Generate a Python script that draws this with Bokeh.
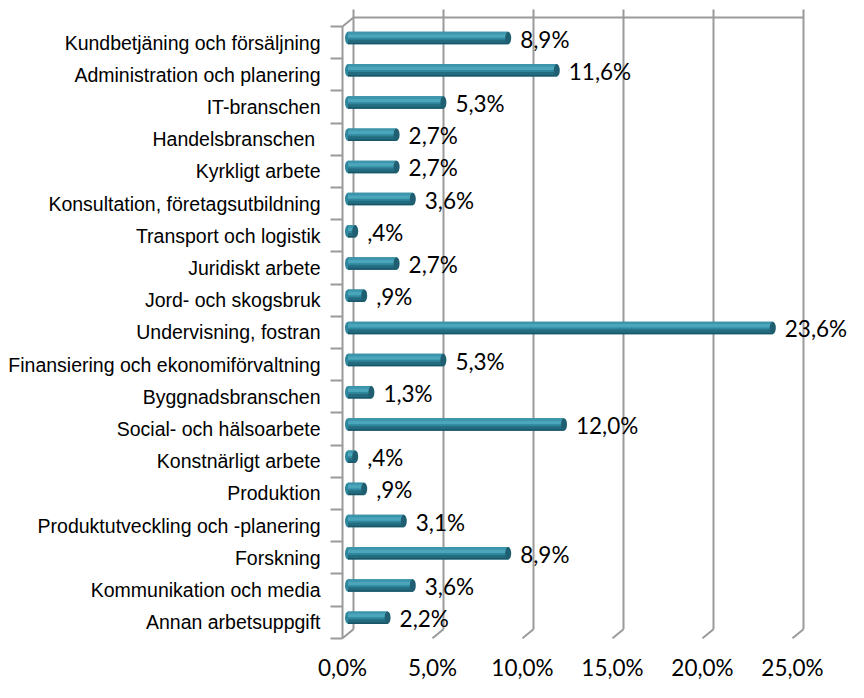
from bokeh.plotting import figure
from bokeh.models import Range1d, LinearAxis, FixedTicker
from bokeh.core.properties import value
from bokeh.embed import file_html
from bokeh.resources import INLINE

# ---------------- data ----------------
categories = [
    "Kundbetjäning och försäljning",
    "Administration och planering",
    "IT-branschen",
    "Handelsbranschen ",
    "Kyrkligt arbete",
    "Konsultation, företagsutbildning",
    "Transport och logistik",
    "Juridiskt arbete",
    "Jord- och skogsbruk",
    "Undervisning, fostran",
    "Finansiering och ekonomiförvaltning",
    "Byggnadsbranschen",
    "Social- och hälsoarbete",
    "Konstnärligt arbete",
    "Produktion",
    "Produktutveckling och -planering",
    "Forskning",
    "Kommunikation och media",
    "Annan arbetsuppgift",
]
percent = [8.9, 11.6, 5.3, 2.7, 2.7, 3.6, 0.4, 2.7, 0.9, 23.6,
           5.3, 1.3, 12.0, 0.4, 0.9, 3.1, 8.9, 3.6, 2.2]
x_ticks = [0, 5, 10, 15, 20, 25]
x_tick_labels = ["0,0%", "5,0%", "10,0%", "15,0%", "20,0%", "25,0%"]


def fmt(v):
    s = f"{v:.1f}".replace(".", ",")
    if s.startswith("0,"):
        s = s[1:]
    return s + "%"


value_labels = [fmt(v) for v in percent]

# ---------------- layout constants ----------------
W, H = 848, 682
PX = 18.0          # pixels per percent
X0 = 342           # canvas x of 0 % (front plane)
ROW = 32.2         # pixels per category
Y_TOP = 26         # canvas y of front plane top
n = len(categories)
DX, DY = 11, 9     # 3D depth offset in pixels

x_range = Range1d(-X0 / PX, (W - X0) / PX)
y_range = Range1d(start=(H - Y_TOP) / ROW - 0.5, end=-Y_TOP / ROW - 0.5)

dxb = DX / PX
dyb = -DY / ROW
dxm, dym = dxb / 2, dyb / 2

p = figure(width=W, height=H, x_range=x_range, y_range=y_range,
           output_backend="svg", toolbar_location=None,
           x_axis_type=None, y_axis_type=None, min_border=0,
           outline_line_color=None, background_fill_color="white",
           border_fill_color="white")

GRID = "#9a9a9a"
top_front = -0.5
bot_front = n - 0.5
top_back = top_front + dyb
bot_back = bot_front + dyb
stub = top_back - 8 / ROW

xs_back = [t + dxb for t in x_ticks]
# back-wall gridlines
p.segment(x0=xs_back, y0=[stub] * len(x_ticks), x1=xs_back, y1=[bot_back] * len(x_ticks),
          line_color=GRID, line_width=2)
# floor diagonals
p.segment(x0=xs_back, y0=[bot_back] * len(x_ticks), x1=x_ticks, y1=[bot_front] * len(x_ticks),
          line_color=GRID, line_width=2)
# top edge of back wall
p.segment(x0=[x_ticks[0] + dxb], y0=[top_back], x1=[x_ticks[-1] + dxb], y1=[top_back],
          line_color=GRID, line_width=2)
# top-left side diagonal
p.segment(x0=[x_ticks[0]], y0=[top_front], x1=[x_ticks[0] + dxb], y1=[top_back],
          line_color=GRID, line_width=2)
# front vertical axis line
p.segment(x0=[x_ticks[0]], y0=[top_front], x1=[x_ticks[0]], y1=[bot_front],
          line_color=GRID, line_width=2)

# ---------------- cylinder bars ----------------
yc = [i + dym for i in range(n)]
x_left = [dxm] * n
x_right = [v + dxm for v in percent]
bh = 12.5 / ROW

p.ellipse(x=x_left, y=yc, width=6, height=12.5, width_units="screen",
          height_units="screen", fill_color="#2f869d", line_color=None)
p.hbar(y=yc, height=bh, left=x_left, right=x_right, fill_color="#2f869d", line_color=None)
p.hbar(y=[y - bh * 0.40 for y in yc], height=bh * 0.2, left=x_left, right=x_right,
       fill_color="#3d95ab", line_color=None)
p.hbar(y=[y - bh * 0.17 for y in yc], height=bh * 0.28, left=x_left, right=x_right,
       fill_color="#4ba6bc", line_color=None)
p.hbar(y=[y + bh * 0.28 for y in yc], height=bh * 0.30, left=x_left, right=x_right,
       fill_color="#236c80", line_color=None)
p.hbar(y=[y + bh * 0.44 for y in yc], height=bh * 0.12, left=x_left, right=x_right,
       fill_color="#1a5566", line_color=None)
p.ellipse(x=x_right, y=yc, width=6, height=12.5, width_units="screen",
          height_units="screen", fill_color="#1f5f71", line_color=None)

# value labels
p.text(x=x_right, y=yc, text=value_labels, x_offset=12, y_offset=1,
       text_font=value("Lato"), text_font_size="22.5px", text_baseline="middle",
       text_align="left", text_color="black")

# ---------------- axes ----------------
yaxis = LinearAxis(
    fixed_location=0,
    ticker=FixedTicker(ticks=list(range(n)), minor_ticks=[i - 0.5 for i in range(n + 1)]),
    major_label_overrides={i: c for i, c in enumerate(categories)},
    axis_line_color=None,
    major_tick_line_color=None, major_tick_in=0, major_tick_out=0,
    minor_tick_line_color=GRID, minor_tick_line_width=2,
    minor_tick_in=0, minor_tick_out=12,
    major_label_standoff=10,
    major_label_text_font="Liberation Sans",
    major_label_text_font_size="19.5px",
    major_label_text_color="black",
)
p.add_layout(yaxis, "left")

xaxis = LinearAxis(
    fixed_location=bot_front,
    ticker=FixedTicker(ticks=x_ticks),
    major_label_overrides={t: l for t, l in zip(x_ticks, x_tick_labels)},
    axis_line_color=None,
    major_tick_line_color=None, major_tick_in=0, major_tick_out=0,
    minor_tick_line_color=None,
    major_label_standoff=16,
    major_label_text_font="Lato",
    major_label_text_font_size="22.5px",
    major_label_text_color="black",
)
p.add_layout(xaxis, "below")

open("out.html", "w").write(file_html(p, INLINE))
